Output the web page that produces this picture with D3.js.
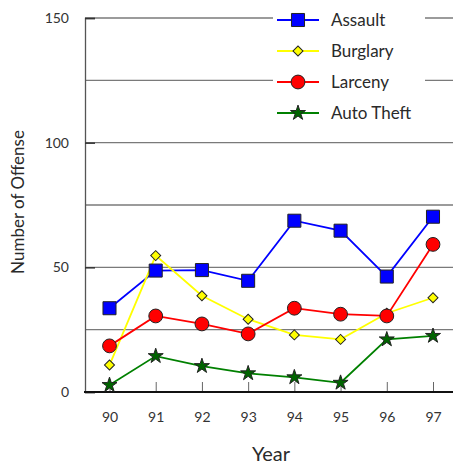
<!DOCTYPE html>
<html>
<head>
<meta charset="utf-8">
<script src="https://cdn.jsdelivr.net/npm/d3@7"></script>
<style>
  body { margin: 0; background: #fff; }
  text { font-family: "Lato", "Open Sans", sans-serif; fill: #2a2a2a; }
</style>
</head>
<body>
<div class="chart-container"></div>
<script>
var years = ["90", "91", "92", "93", "94", "95", "96", "97"];
var assault = [33.6, 48.7, 48.9, 44.6, 68.7, 64.7, 46.3, 70.3];
var burglary = [10.8, 54.7, 38.6, 29.2, 22.9, 21.1, 31.6, 37.8];
var larceny = [18.5, 30.5, 27.3, 23.3, 33.6, 31.2, 30.5, 59.2];
var autoTheft = [2.8, 14.4, 10.4, 7.5, 5.9, 3.7, 21.1, 22.5];
var yTicks = [0, 50, 100, 150];
var yGrid = [25, 50, 75, 100, 125, 150];

function drawChart() {
    var width = 453, height = 467;
    var plotLeft = 85, plotRight = 453, plotTop = 18, plotBottom = 392;

    var svg = d3.select(".chart-container")
        .append("svg")
        .attr("width", width)
        .attr("height", height);

    var x = d3.scalePoint()
        .domain(years)
        .range([109.5, 433]);

    var y = d3.scaleLinear()
        .domain([0, 150])
        .range([plotBottom, plotTop]);

    // grid lines
    svg.append("g")
        .selectAll("line")
        .data(yGrid)
        .enter().append("line")
        .attr("x1", plotLeft)
        .attr("x2", plotRight)
        .attr("y1", function(d) { return y(d); })
        .attr("y2", function(d) { return y(d); })
        .style("stroke", "#7a7a7a")
        .style("stroke-width", 1.3);

    // y axis
    var yAxis = svg.append("g")
        .attr("transform", "translate(" + plotLeft + ",0)")
        .call(d3.axisRight(y).tickValues(yTicks).tickSize(10).tickFormat(d3.format("d")));
    yAxis.select(".domain").style("stroke", "#555").style("stroke-width", 1.3);
    yAxis.selectAll(".tick line").style("stroke", "#333").style("stroke-width", 1.5);
    yAxis.selectAll(".tick text")
        .attr("x", -16)
        .attr("text-anchor", "end")
        .style("font-size", "14px")
        .style("fill", "#333");

    // x axis
    var xAxis = svg.append("g")
        .attr("transform", "translate(0," + plotBottom + ")")
        .call(d3.axisTop(x).tickSize(10));
    xAxis.select(".domain").remove();
    xAxis.selectAll(".tick line").style("stroke", "#666").style("stroke-width", 1);
    xAxis.selectAll(".tick text")
        .attr("y", 25)
        .attr("dy", "0.35em")
        .style("font-size", "14px")
        .style("fill", "#333");
    svg.append("line")
        .attr("x1", plotLeft - 1)
        .attr("x2", plotRight)
        .attr("y1", plotBottom)
        .attr("y2", plotBottom)
        .style("stroke", "#111")
        .style("stroke-width", 2);

    // axis titles
    svg.append("text")
        .attr("x", 271)
        .attr("y", 461)
        .attr("text-anchor", "middle")
        .style("font-size", "20px")
        .text("Year");

    svg.append("text")
        .attr("transform", "translate(24,202) rotate(-90)")
        .attr("text-anchor", "middle")
        .style("font-size", "17px")
        .text("Number of Offense");

    var series = [
        {name: "Assault", values: assault, line: "#0000ff", fill: "#0000ff", shape: d3.symbolSquare, size: 170, rot: 0},
        {name: "Burglary", values: burglary, line: "#ffff00", fill: "#ffff00", shape: d3.symbolSquare, size: 50, rot: 45},
        {name: "Larceny", values: larceny, line: "#ff0000", fill: "#ff0000", shape: d3.symbolCircle, size: 150, rot: 0},
        {name: "Auto Theft", values: autoTheft, line: "#008000", fill: "#006400", shape: d3.symbolStar, size: 70, rot: 0}
    ];

    var line = d3.line()
        .x(function(d, i) { return x(years[i]); })
        .y(function(d) { return y(d); });

    var plot = svg.append("g");

    series.forEach(function(s) {
        plot.append("path")
            .attr("d", line(s.values))
            .style("fill", "none")
            .style("stroke", s.line)
            .style("stroke-width", 1.8);
    });

    series.forEach(function(s) {
        plot.append("g")
            .selectAll("path")
            .data(s.values)
            .enter().append("path")
            .attr("transform", function(d, i) {
                return "translate(" + x(years[i]) + "," + y(d) + ") rotate(" + s.rot + ")";
            })
            .attr("d", d3.symbol().type(s.shape).size(s.size))
            .style("fill", s.fill)
            .style("stroke", "#222")
            .style("stroke-width", 1);
    });

    // legend
    var legend = svg.append("g");
    legend.append("rect")
        .attr("x", 273)
        .attr("y", 4)
        .attr("width", 152)
        .attr("height", 127)
        .style("fill", "#fff");

    var item = legend.selectAll(".item")
        .data(series)
        .enter().append("g")
        .attr("class", "item")
        .attr("transform", function(d, i) { return "translate(0," + (20 + i * 31) + ")"; });

    item.append("line")
        .attr("x1", 277)
        .attr("x2", 319)
        .style("stroke", function(d) { return d.line; })
        .style("stroke-width", 1.8);

    item.append("path")
        .attr("transform", function(d) { return "translate(298,0) rotate(" + d.rot + ")"; })
        .attr("d", function(d) { return d3.symbol().type(d.shape).size(d.size)(); })
        .style("fill", function(d) { return d.fill; })
        .style("stroke", "#222")
        .style("stroke-width", 1);

    item.append("text")
        .attr("x", 331)
        .attr("dy", "0.35em")
        .style("font-size", "17px")
        .text(function(d) { return d.name; });
}

drawChart();
</script>
</body>
</html>
